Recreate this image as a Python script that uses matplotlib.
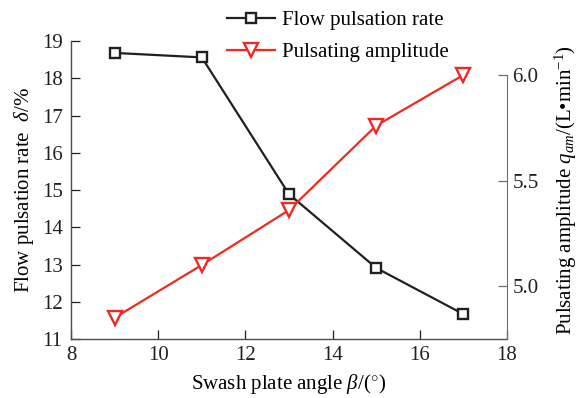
import numpy as np
import matplotlib
matplotlib.use("Agg")
import matplotlib.pyplot as plt

# %% data
angle = [9, 11, 13, 15, 17]                      # swash plate angle (deg)
pulse_rate = [18.68, 18.56, 14.89, 12.91, 11.67]  # flow pulsation rate (%)
amplitude = [4.85, 5.10, 5.36, 5.76, 6.00]        # pulsating amplitude (L/min)
xticks = [8, 10, 12, 14, 16, 18]
yticks_left = [11, 12, 13, 14, 15, 16, 17, 18, 19]
yticks_right = [5.0, 5.5, 6.0]

plt.rcParams['font.family'] = ['Liberation Serif', 'DejaVu Serif']
plt.rcParams['mathtext.fontset'] = 'custom'
plt.rcParams['mathtext.rm'] = 'Liberation Serif'
plt.rcParams['mathtext.it'] = 'Liberation Serif:italic'
plt.rcParams['font.size'] = 15

black = '#231f20'
red = '#ee2a24'

fig = plt.figure(figsize=(5.79, 3.98), dpi=100)
ax = fig.add_axes([0.1226, 0.148, 0.753, 0.749])
ax2 = ax.twinx()

l1, = ax.plot(angle, pulse_rate, color=black, lw=1.6, marker='s', ms=7.5,
              mfc='white', mec=black, mew=1.7, label='Flow pulsation rate')
l2, = ax2.plot(angle, amplitude, color=red, lw=1.6, marker='v', ms=10,
               mfc='white', mec=red, mew=1.7, label='Pulsating amplitude')

ax.set_xlim(8, 18)
ax.set_ylim(11, 19)
ax2.set_ylim(4.749, 6.161)
ax.set_xticks(xticks)
ax.set_yticks(yticks_left)
ax2.set_yticks(yticks_right)
ax2.set_yticklabels(['%.1f' % v for v in yticks_right])

for a in (ax, ax2):
    a.spines['top'].set_visible(False)
    a.tick_params(direction='in', length=6.5, width=0.9, colors=black, pad=5)
ax.tick_params(axis='y', pad=6)
ax.spines['right'].set_visible(False)
ax2.spines['left'].set_visible(False)
ax2.spines['bottom'].set_visible(False)
ax2.spines['right'].set_bounds(4.749, 6.0)
ax2.spines['right'].set_color('#6d6e71')
ax2.tick_params(axis='y', colors='#6d6e71', labelcolor=black, pad=4)
for s in ('left', 'bottom'):
    ax.spines[s].set_color('#4d4d4f')
    ax.spines[s].set_linewidth(1.0)

ax.set_xlabel(r'Swash plate angle $\mathit{\beta}$/($^{\circ}$)', labelpad=5)
ax.set_ylabel(r'Flow pulsation rate  $\mathit{\delta}$/%', labelpad=4)
ax2.set_ylabel('Pulsating amplitude $q_{am}$/(L\u2022min$^{-1}$)', labelpad=10)

fig.legend(handles=[l1, l2], loc='upper left', bbox_to_anchor=(0.378, 0.995),
           frameon=False, handlelength=2.3, handletextpad=0.35, labelspacing=0.6,
           borderaxespad=0)

fig.savefig('out.png', dpi=100)
